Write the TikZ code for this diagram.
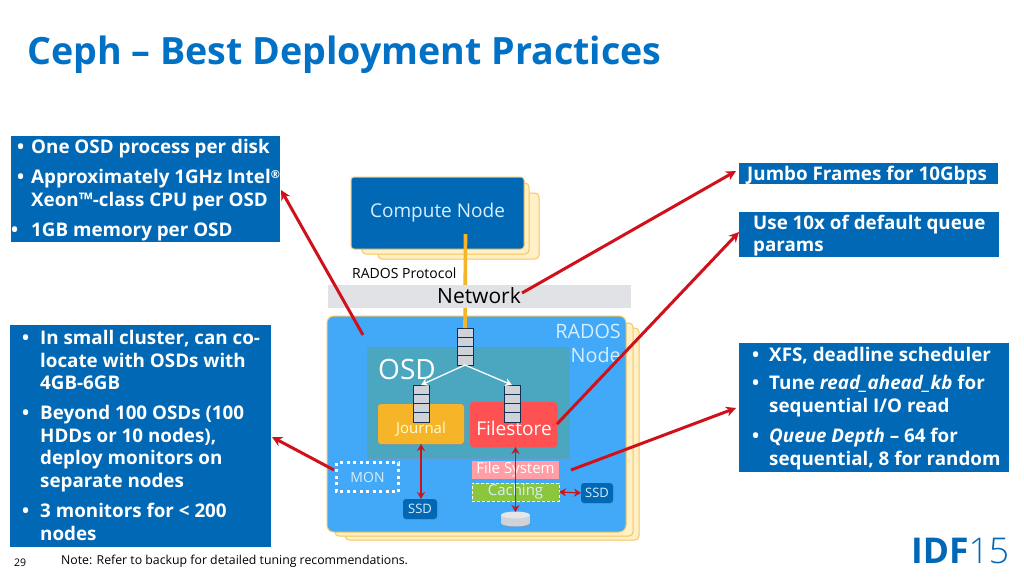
\documentclass[tikz,border=0pt]{standalone}
\usepackage{fontspec}
\setmainfont{Open Sans}
\newfontfamily\lightfont{Open Sans Light}
\usetikzlibrary{calc,shadows,arrows.meta}

\definecolor{intel}{HTML}{0068B5}
\definecolor{titleblue}{HTML}{0071C5}
\definecolor{radosblue}{HTML}{41A9F7}
\definecolor{osdteal}{HTML}{4BA6C0}
\definecolor{stackline}{HTML}{F5C65B}
\definecolor{stackfill}{HTML}{FFF0C8}
\definecolor{netgrey}{HTML}{E0E2E5}
\definecolor{linkyellow}{HTML}{F6B528}
\definecolor{redline}{HTML}{D0101A}
\definecolor{queuefill}{HTML}{CFD3D9}
\definecolor{queueline}{HTML}{14304F}
\definecolor{softtext}{HTML}{D6EEFF}
\definecolor{filered}{HTML}{FF5052}
\definecolor{fspink}{HTML}{FF9EA5}
\definecolor{cachegreen}{HTML}{8CC63F}

\newcommand{\fs}[1]{\fontsize{#1}{#1}\selectfont}

\tikzset{
  x=1pt, y=-1pt,
  block/.style={anchor=north west, inner sep=0pt, outer sep=0pt, align=center},
  layer/.style={draw=stackline, line width=1pt, fill=stackfill, rounded corners=4pt},
  bluebox/.style={block, fill=intel},
  shade/.style={general shadow={fill=black!45, opacity=.45, shadow xshift=1.2pt, shadow yshift=-1.2pt}},
  queue/.style={block, draw=queueline, line width=1pt, fill=queuefill, minimum width=16pt, minimum height=37pt,
    path picture={\foreach \f in {.25,.5,.75}
      \draw[queueline, line width=1pt]
        ($(path picture bounding box.north west)!\f!(path picture bounding box.south west)$) --
        ($(path picture bounding box.north east)!\f!(path picture bounding box.south east)$);}},
  ssd/.style={block, fill=intel, rounded corners=3pt, shade, text=softtext, font=\fs{13}},
  callout/.style={draw=redline, line width=3pt, -{Stealth[length=10pt,width=10pt]}},
  link/.style={draw=redline, line width=1.2pt, {Stealth[length=7pt,width=8pt]}-{Stealth[length=7pt,width=8pt]}},
  flow/.style={draw=white, line width=1.3pt, -{Stealth[length=7pt,width=8pt]}},
  boxtext/.style={anchor=base west, inner sep=0pt, text=white, font=\fs{18.8}\bfseries},
}

\begin{document}
\begin{tikzpicture}
\useasboundingbox (0,0) rectangle (1024,576);
\fill[white] (0,0) rectangle (1024,576);

\node[anchor=base west, inner sep=0pt, text=titleblue, font=\fs{37.6}\bfseries] (title) at (27,64) {Ceph – Best Deployment Practices};

% Compute node stack
\draw[layer] (378,193) rectangle (539,259);
\draw[layer] (362,183) rectangle (529,254);
\node[block, fill=intel, draw=stackline, line width=1pt, rounded corners=3pt, minimum width=173pt, minimum height=72pt,
  text=softtext, font=\fs{19}] (compute) at (351,177) {Compute Node};
\node[anchor=base west, inner sep=0pt, font=\fs{14}] (protocol) at (352,278) {RADOS Protocol};

% RADOS node stack
\draw[layer] (345,328) rectangle (639,540);
\draw[layer] (335,323) rectangle (633,536);
\node[block, fill=radosblue, draw=stackline, line width=1pt, rounded corners=7pt, minimum width=299pt, minimum height=216pt] (rados) at (327,316) {};
\node[anchor=base east, inner sep=0pt, text=softtext, font=\fs{19.8}] (radosa) at (621,338) {RADOS};
\node[anchor=base east, inner sep=0pt, text=softtext, font=\fs{19.8}] (radosb) at (621,362) {Node};

% OSD panel
\node[block, fill=osdteal, shade, minimum width=202pt, minimum height=111pt] (osd) at (367,347) {};
\node[anchor=base west, inner sep=0pt, text=white, font=\fs{28}] (osdtext) at (378,379) {OSD};
\node[block, fill=linkyellow, rounded corners=3pt, shade, minimum width=86pt, minimum height=40pt] (journal) at (378,404) {};
\node[block, fill=filered, rounded corners=3pt, shade, minimum width=87pt, minimum height=45pt] (filestore) at (470,402) {};
\node[inner sep=0pt, text=white!85!yellow, font=\fs{15}] (journaltext) at (421,429) {Journal};
\node[inner sep=0pt, text=white, font=\fs{19}] (filestoretext) at (514,428) {Filestore};

% File system layers
\node[block, fill=fspink, minimum width=87pt, minimum height=18pt, text=white, font=\fs{15}] (fs) at (472,461) {File System};
\node[block, fill=cachegreen, minimum width=87pt, minimum height=18pt, draw=white, densely dashed, line width=.8pt, text=softtext, font=\fs{15}] (caching) at (472,483) {Caching};
\node[block, minimum width=62pt, minimum height=29pt, text=softtext, font=\fs{14}] (mon) at (336.5,462.5) {MON};
\draw[white, line width=3pt, dash pattern=on 3pt off 3.5pt] (mon.north west) rectangle (mon.south east);
\node[ssd, minimum width=34pt, minimum height=20pt] (ssda) at (403,499) {SSD};
\node[ssd, minimum width=32pt, minimum height=20pt] (ssdb) at (581,483) {SSD};

% Disk
\fill[black!45, opacity=.45] (516.7,524.2) ellipse[x radius=14.5, y radius=3.5];
\fill[queuefill] (515.5,523) ellipse[x radius=14.5, y radius=3.5];
\fill[queuefill] (501,515) rectangle (530,523);
\fill[queuefill!55!white] (515.5,515) ellipse[x radius=14.5, y radius=3.5];
\coordinate (disk) at (515.5,512);

% Protocol link and network band
\coordinate (linktop) at (465.5,234);
\node[queue] (qtop) at (457,328) {};
\draw[linkyellow, line width=3.6pt] (linktop) -- (qtop.north);
\node[block, fill=netgrey, minimum width=303pt, minimum height=23pt] (network) at (328,285) {};
\node[inner sep=0pt, font=\fs{21}] (networktext) at (479,296) {Network};

% Queues and flow
\node[queue] (qjournal) at (413,385) {};
\node[queue] (qfile) at (504,385) {};
\draw[flow] (qtop.south) -- (qjournal.north);
\draw[flow] (qtop.south) -- (qfile.north);

% Thin links
\draw[link] (journal.south -| qjournal.south) -- (ssda.north -| qjournal.south);
\draw[link] (filestore.south -| disk) -- (disk);
\draw[link] (caching.east) -- (ssdb.west);

% Text boxes
\node[bluebox, minimum width=269pt, minimum height=106pt] (boxa) at (11,136) {};
\node[bluebox, minimum width=261pt, minimum height=222pt] (boxb) at (10,325) {};
\node[bluebox, minimum width=259pt, minimum height=21pt] (boxc) at (739,163) {};
\node[bluebox, minimum width=260pt, minimum height=45pt] (boxd) at (739,212) {};
\node[bluebox, minimum width=270pt, minimum height=129pt] (boxe) at (739,343) {};

\foreach \x/\y/\t [count=\i] in {
  31/153/{One OSD process per disk},
  31/183/{Approximately 1GHz Intel{\fs{11}\raisebox{5pt}{®}}},
  31/206/{Xeon™-class CPU per OSD},
  31/236/{1GB memory per OSD},
  40/344/{In small cluster, can co-},
  40/367/{locate with OSDs with},
  40/389/{4GB-6GB},
  40/419/{Beyond 100 OSDs (100},
  40/442/{HDDs or 10 nodes),},
  40/464/{deploy monitors on},
  40/487/{separate nodes},
  40/517/{3 monitors for < 200},
  40/540/{nodes},
  747/180/{Jumbo Frames for 10Gbps},
  753/229/{Use 10x of default queue},
  753/251/{params},
  769/361/{XFS, deadline scheduler},
  769/389/{Tune \textit{read\_ahead\_kb} for},
  769/412/{sequential I/O read},
  769/442/{\textit{Queue Depth} – 64 for},
  769/465/{sequential, 8 for random}}
  \node[boxtext] (line\i) at (\x,\y) {\t};

\foreach \x/\y [count=\i] in {17/153,17/183,11/236,22/344,22/419,22/517,752/361,752/389,752/442}
  \node[boxtext] (bullet\i) at (\x,\y) {•};

% Callouts
\coordinate (enda) at (363,335);
\coordinate (tipa) at (281,190);
\coordinate (tipb) at (736,171);
\coordinate (tipc) at (739,232);
\coordinate (startd) at (571,470);
\coordinate (tipd) at (736,408);
\coordinate (starte) at (334,470);
\coordinate (tipe) at (272,437);
\coordinate (startb) at (522,293);
\coordinate (startc) at (557,424);
\draw[callout] (enda) -- (tipa);
\draw[callout] (startb) -- (tipb);
\draw[callout] (startc) -- (tipc);
\draw[callout] (startd) -- (tipd);
\draw[callout] (starte) -- (tipe);

% Footer
\node[anchor=base west, inner sep=0pt, font=\fs{10.5}] (page) at (14,566) {29};
\node[anchor=base west, inner sep=0pt, font=\fs{12.3}] (note) at (61,564) {Note: Refer to backup for detailed tuning recommendations.};
\node[anchor=base west, inner sep=0pt, text=intel, font=\fs{35.5}] (logo) at (911,563) {\textbf{IDF}{\lightfont 15}};
\end{tikzpicture}
\end{document}
